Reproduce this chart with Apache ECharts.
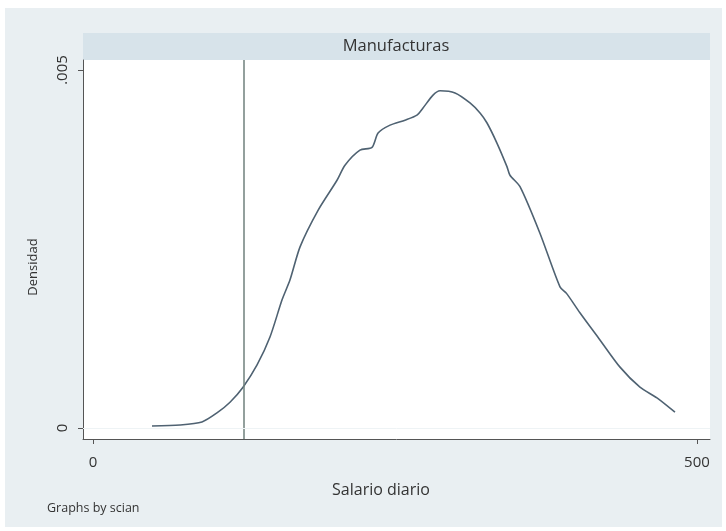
<!DOCTYPE html>
<html>
<head>
<meta charset="utf-8">
<script src="https://cdn.jsdelivr.net/npm/echarts@6/dist/echarts.min.js"></script>
<style>
html,body{margin:0;padding:0;background:#ffffff;}
#chart{width:726px;height:531px;}
</style>
</head>
<body>
<div id="chart"></div>
<script>
// Kernel density of daily wage (Manufacturas)
const salario = [48.8, 72.0, 90.2, 102.6, 113.4, 124.2, 135.8, 146.5, 156.5, 163.1, 171.4, 186.3, 202.0, 208.6, 221.0, 231.0, 236.0, 245.9, 258.3, 268.2, 273.2, 281.5, 287.3, 299.7, 312.1, 320.4, 326.2, 334.4, 342.7, 345.2, 353.5, 370.0, 386.6, 392.0, 403.1, 419.7, 436.3, 452.8, 466.9, 481.8];
const densidad = [0.000028, 0.000042, 0.000084, 0.00021, 0.00036, 0.00057, 0.00088, 0.00127, 0.00179, 0.00207, 0.00253, 0.00304, 0.00346, 0.00367, 0.00388, 0.00392, 0.00412, 0.00423, 0.0043, 0.00437, 0.00447, 0.00465, 0.00471, 0.00468, 0.00454, 0.0044, 0.00426, 0.00398, 0.00365, 0.00353, 0.00337, 0.00272, 0.00197, 0.00188, 0.00161, 0.00123, 0.00085, 0.00057, 0.00042, 0.00022];
const lineaVertical = 125;
const xTicks = [0, 500];
const yTicks = [0, 0.005];
const yTickLabels = ['0', '.005'];
const panelTitle = 'Manufacturas';
const xTitle = 'Salario diario';
const yTitle = 'Densidad';
const note = 'Graphs by scian';

const font = '"Open Sans", "Liberation Sans", sans-serif';
const chart = echarts.init(document.getElementById('chart'), null, {renderer: 'canvas'});
const pts = salario.map((v, i) => [v, densidad[i]]);

chart.setOption({
  animation: false,
  backgroundColor: '#ffffff',
  textStyle: {fontFamily: font},
  graphic: [
    {type: 'rect', z: -10, shape: {x: 5, y: 8, width: 717, height: 519}, style: {fill: '#e9eff2'}},
    {type: 'rect', z: -5, shape: {x: 83, y: 33, width: 627, height: 27}, style: {fill: '#d7e3ea'}},
    {type: 'text', z: 5,
      style: {text: panelTitle, x: 396, y: 46, align: 'center', verticalAlign: 'middle', fill: '#333333', font: '16.5px ' + font}},
    {type: 'text', z: 5,
      style: {text: xTitle, x: 381, y: 490, align: 'center', verticalAlign: 'middle', fill: '#333333', font: '16px ' + font}},
    {type: 'text', z: 5, x: 33, y: 267, rotation: Math.PI / 2,
      style: {text: yTitle, x: 0, y: 0, align: 'center', verticalAlign: 'middle', fill: '#333333', font: '13px ' + font}},
    {type: 'text', z: 5, style: {text: note, x: 47, y: 508, align: 'left', verticalAlign: 'middle', fill: '#333333', font: '12.5px ' + font}}
  ],
  grid: {left: 83, right: 16, top: 60, bottom: 92, show: true, backgroundColor: '#ffffff', borderWidth: 0, containLabel: false},
  xAxis: {
    type: 'value', min: -8.3, max: 510.8,
    axisLine: {show: true, onZero: false, lineStyle: {color: '#555555', width: 1}},
    axisTick: {show: true, customValues: xTicks, length: 5, lineStyle: {color: '#555555'}},
    axisLabel: {customValues: xTicks, margin: 16, fontSize: 15, color: '#333333', fontFamily: font},
    splitLine: {show: false}
  },
  yAxis: {
    type: 'value', min: -0.000154, max: 0.00514,
    axisLine: {show: true, onZero: false, lineStyle: {color: '#555555', width: 1}},
    axisTick: {show: true, customValues: yTicks, length: 5, lineStyle: {color: '#555555'}},
    axisLabel: {customValues: yTicks, rotate: 90, margin: 13, fontSize: 15, color: '#333333', fontFamily: font,
      formatter: function (v) { const i = yTicks.findIndex(t => Math.abs(t - v) < 1e-9); return i >= 0 ? yTickLabels[i] : ''; }},
    splitLine: {show: false}
  },
  series: [
    {
      type: 'line', data: pts, showSymbol: false, smooth: 0.25,
      lineStyle: {color: '#4f6272', width: 1.6}, z: 3,
      markLine: {
        silent: true, symbol: 'none', label: {show: false},
        data: [
          {xAxis: lineaVertical, lineStyle: {color: '#6f807c', width: 1.5, type: 'solid'}},
          {yAxis: yTicks[0], lineStyle: {color: '#eef3f5', width: 1, type: 'solid'}},
          {yAxis: yTicks[1], lineStyle: {color: '#eef3f5', width: 1, type: 'solid'}}
        ]
      }
    }
  ]
});
</script>
</body>
</html>
